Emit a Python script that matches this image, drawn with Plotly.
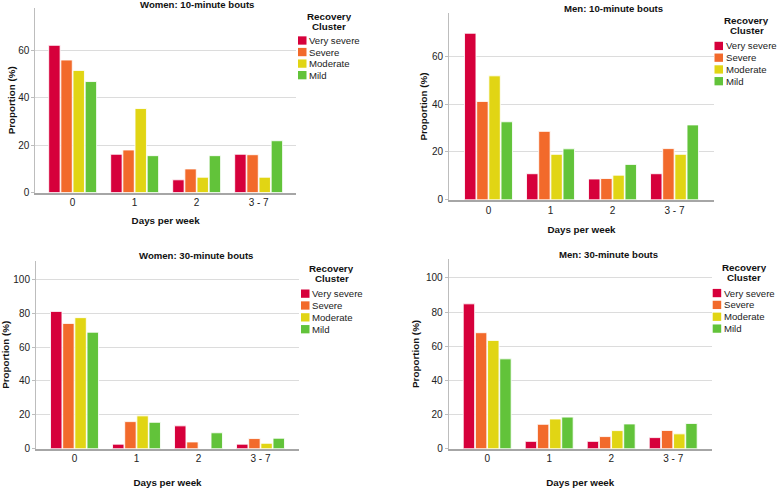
import plotly.graph_objects as go

# ---------------- data ----------------
categories = ["0", "1", "2", "3 - 7"]
clusters = ["Very severe", "Severe", "Moderate", "Mild"]
cluster_colors = ["#D6003B", "#F26A2B", "#E1D514", "#62C33A"]

panel_titles = ["Women: 10-minute bouts", "Men: 10-minute bouts",
                "Women: 30-minute bouts", "Men: 30-minute bouts"]

women10_very_severe = [62.2, 16.2, 5.4, 16.2]
women10_severe = [56.0, 18.0, 10.0, 16.0]
women10_moderate = [51.6, 35.5, 6.5, 6.5]
women10_mild = [46.9, 15.6, 15.6, 21.9]

men10_very_severe = [69.6, 10.9, 8.7, 10.9]
men10_severe = [41.1, 28.6, 8.9, 21.4]
men10_moderate = [51.8, 19.0, 10.3, 19.0]
men10_mild = [32.6, 21.3, 14.8, 31.3]

women30_very_severe = [81.1, 2.7, 13.5, 2.7]
women30_severe = [74.0, 16.0, 4.0, 6.0]
women30_moderate = [77.4, 19.4, 0.0, 3.2]
women30_mild = [68.8, 15.6, 9.4, 6.2]

men30_very_severe = [84.8, 4.3, 4.3, 6.5]
men30_severe = [67.9, 14.3, 7.1, 10.7]
men30_moderate = [63.4, 17.4, 10.6, 8.7]
men30_mild = [52.6, 18.5, 14.5, 14.8]

panel_series = [
    [women10_very_severe, women10_severe, women10_moderate, women10_mild],
    [men10_very_severe, men10_severe, men10_moderate, men10_mild],
    [women30_very_severe, women30_severe, women30_moderate, women30_mild],
    [men30_very_severe, men30_severe, men30_moderate, men30_mild],
]
y_max = [78, 78, 111, 111]

# ---------------- layout geometry (pixels) ----------------
W, H = 777, 488
# (x0, x1, ytop, ybottom) plot-area boxes
boxes = [(35.3, 296, 8, 195), (449, 714, 13.3, 202.3),
         (36, 299, 264, 454.3), (448.7, 711.7, 262.3, 454.3)]
title_pos = [(196.5, 5), (613, 8.3), (196, 258.7), (608.7, 258)]
x_title_standoff = [10, 12, 16, 17]
y_title_standoff = [0, 2, 6, 4]
legend_pos = [  # title center x, title line1 y, swatch x0, first item y, spacing
    (329, 16.7, 298, 41, 11.7),
    (746.5, 21, 714.5, 46.5, 11.9),
    (331.7, 272.3, 301, 297.3, 12),
    (744, 271.3, 712.7, 296.7, 12),
]

FONT = "Liberation Sans, Arial, sans-serif"

def px(x):
    return x / W

def py(y):
    return 1 - y / H

fig = go.Figure()
layout = dict(
    width=W, height=H, margin=dict(l=0, r=0, t=0, b=0),
    paper_bgcolor="white", plot_bgcolor="white",
    showlegend=False, barmode="group", bargap=0.215, bargroupgap=0.06,
    font=dict(family=FONT, size=10, color="#222222"),
)
annotations = []
shapes = []

for p in range(4):
    xa = "xaxis" if p == 0 else f"xaxis{p+1}"
    ya = "yaxis" if p == 0 else f"yaxis{p+1}"
    xref = "x" if p == 0 else f"x{p+1}"
    yref = "y" if p == 0 else f"y{p+1}"
    x0, x1, yt, yb = boxes[p]
    for k in range(4):
        fig.add_trace(go.Bar(
            x=categories, y=panel_series[p][k], name=clusters[k],
            marker=dict(color=cluster_colors[k],
                        line=dict(color="rgba(255,255,255,0.85)", width=1)),
            xaxis=xref, yaxis=yref, showlegend=False,
        ))
    span = (x1 - x0) / 62.0
    pad = (span - 4) / 2
    layout[xa] = dict(
        domain=[px(x0), px(x1)], anchor=yref,
        type="category", range=[-0.5 - pad, 3.5 + pad],
        showline=True, linecolor="#A6A6A6", linewidth=1.5,
        ticks="", showgrid=False, zeroline=False,
        tickfont=dict(size=10, color="#222222", family=FONT),
        title=dict(text="<b>Days per week</b>", standoff=x_title_standoff[p],
                   font=dict(size=9.8, color="#111111", family=FONT)),
    )
    layout[ya] = dict(
        domain=[py(yb), py(yt)], anchor=xref,
        range=[0, y_max[p]], dtick=20, tick0=0,
        showline=True, linecolor="#BDBDBD", linewidth=1,
        ticks="outside", ticklen=3, tickcolor="#BDBDBD",
        showgrid=True, gridcolor="#DCDCDC", gridwidth=1.3, zeroline=False,
        tickfont=dict(size=10, color="#222222", family=FONT),
        title=dict(text="<b>Proportion (%)</b>", standoff=y_title_standoff[p],
                   font=dict(size=9.8, color="#111111", family=FONT)),
    )
    tx, ty = title_pos[p]
    annotations.append(dict(
        text=f"<b>{panel_titles[p]}</b>", x=px(tx), y=py(ty),
        xref="paper", yref="paper", xanchor="center", yanchor="middle",
        showarrow=False, font=dict(size=9.6, color="#111111", family=FONT)))
    lcx, lty, sx, fy, sp = legend_pos[p]
    for j, line in enumerate(["Recovery", "Cluster"]):
        annotations.append(dict(
            text=f"<b>{line}</b>", x=px(lcx), y=py(lty + j * 9.7),
            xref="paper", yref="paper", xanchor="center", yanchor="middle",
            showarrow=False, height=9.3,
            font=dict(size=9.8, color="#111111", family=FONT)))
    for k in range(4):
        cy = fy + k * sp
        shapes.append(dict(
            type="rect", xref="paper", yref="paper",
            x0=px(sx), x1=px(sx + 8.5), y0=py(cy - 4.2), y1=py(cy + 4.2),
            fillcolor=cluster_colors[k], line=dict(width=0)))
        annotations.append(dict(
            text=clusters[k], x=px(sx + 9.0), y=py(cy),
            xref="paper", yref="paper", xanchor="left", yanchor="middle",
            showarrow=False, font=dict(size=9.6, color="#222222", family=FONT)))

layout["annotations"] = annotations
layout["shapes"] = shapes
fig.update_layout(**layout)
fig.write_html("out.html", config={"displayModeBar": False},
               post_script="document.body.style.margin='0';")
